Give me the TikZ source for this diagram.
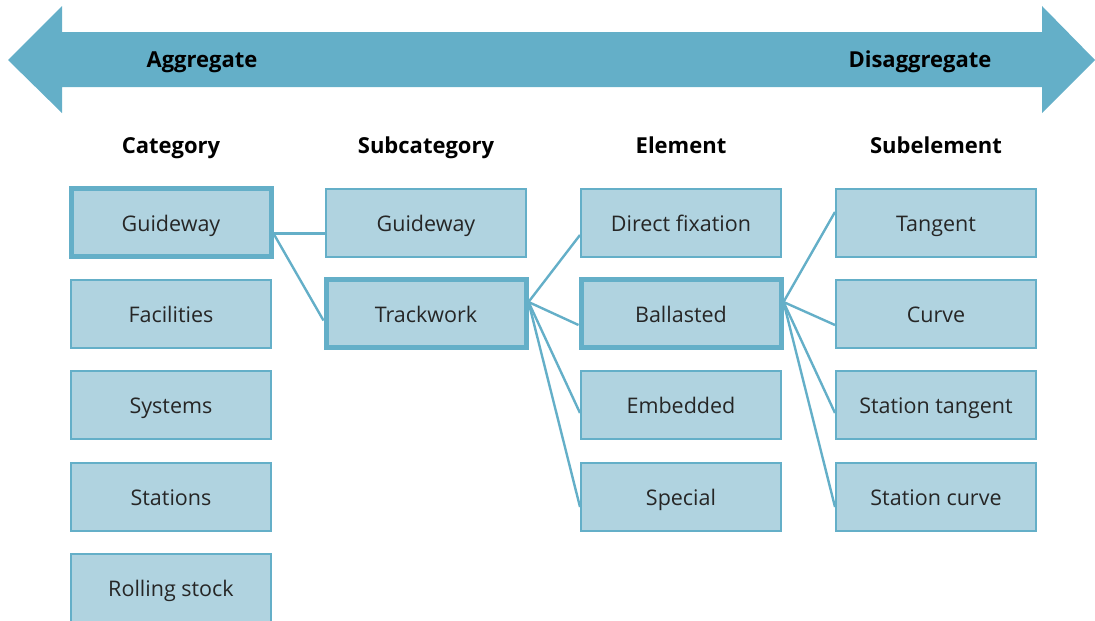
\documentclass[tikz,border=0pt]{standalone}
\usepackage{fontspec}
\setmainfont{Open Sans}
\definecolor{arrowc}{HTML}{64AFC8}
\definecolor{boxfill}{HTML}{B0D3E0}
\definecolor{boxline}{HTML}{64AFC8}
\begin{document}
\begin{tikzpicture}[x=1pt,y=-1pt,
  box/.style={rectangle, draw=boxline, fill=boxfill, line width=2pt,
    minimum width=200pt, minimum height=68pt, inner sep=0pt,
    text height=17pt, text depth=0pt,
    font=\fontsize{21.5}{25}\selectfont, text=black!85},
  hibox/.style={box, line width=5pt},
  head/.style={font=\bfseries\fontsize{22}{26}\selectfont, text=black,
    text height=16pt, text depth=0pt, inner sep=0pt},
  conn/.style={draw=boxline, line width=2.4pt}]
\useasboundingbox (0,0) rectangle (1095,621);
% arrow
\fill[arrowc] (8,60) -- (62,6) -- (62,32) -- (1042,32) -- (1042,6) -- (1095,60)
  -- (1042,113) -- (1042,87) -- (62,87) -- (62,113) -- cycle;
\node[head] (agg) at (202,59) {Aggregate};
\node[head] (dis) at (920,59) {Disaggregate};
% headers
\node[head] (h1) at (171,145) {Category};
\node[head] (h2) at (426,145) {Subcategory};
\node[head] (h3) at (681,145) {Element};
\node[head] (h4) at (936,145) {Subelement};
% category
\node[hibox] (c1) at (171,222.5) {Guideway};
\node[box] (c2) at (171,313.5) {Facilities};
\node[box] (c3) at (171,405) {Systems};
\node[box] (c4) at (171,496.5) {Stations};
\node[box] (c5) at (171,587.5) {Rolling stock};
% subcategory
\node[box] (s1) at (426,222.5) {Guideway};
\node[hibox] (s2) at (426,313.5) {Trackwork};
% element
\node[box] (e1) at (681,222.5) {Direct fixation};
\node[hibox] (e2) at (681,313.5) {Ballasted};
\node[box] (e3) at (681,405) {Embedded};
\node[box] (e4) at (681,496.5) {Special};
% subelement
\node[box] (u1) at (936,222.5) {Tangent};
\node[box] (u2) at (936,313.5) {Curve};
\node[box] (u3) at (936,405) {Station tangent};
\node[box] (u4) at (936,496.5) {Station curve};
% connectors
\coordinate (c1o) at ([yshift=-11pt]c1.east);
\draw[conn] (c1o) -- ([yshift=-11pt]s1.west);
\draw[conn] (c1o) -- ([yshift=-7pt]s2.west);
\coordinate (s2o) at ([yshift=11.5pt]s2.east);
\draw[conn] (s2o) -- ([yshift=-12.5pt]e1.west);
\draw[conn] (s2o) -- ([yshift=-11.5pt]e2.west);
\draw[conn] (s2o) -- ([yshift=-8pt]e3.west);
\draw[conn] (s2o) -- ([yshift=-10.5pt]e4.west);
\coordinate (e2o) at ([yshift=11.5pt]e2.east);
\draw[conn] (e2o) -- ([yshift=10.5pt]u1.west);
\draw[conn] (e2o) -- ([yshift=-11.5pt]u2.west);
\draw[conn] (e2o) -- ([yshift=-8pt]u3.west);
\draw[conn] (e2o) -- ([yshift=-10.5pt]u4.west);
\end{tikzpicture}
\end{document}
